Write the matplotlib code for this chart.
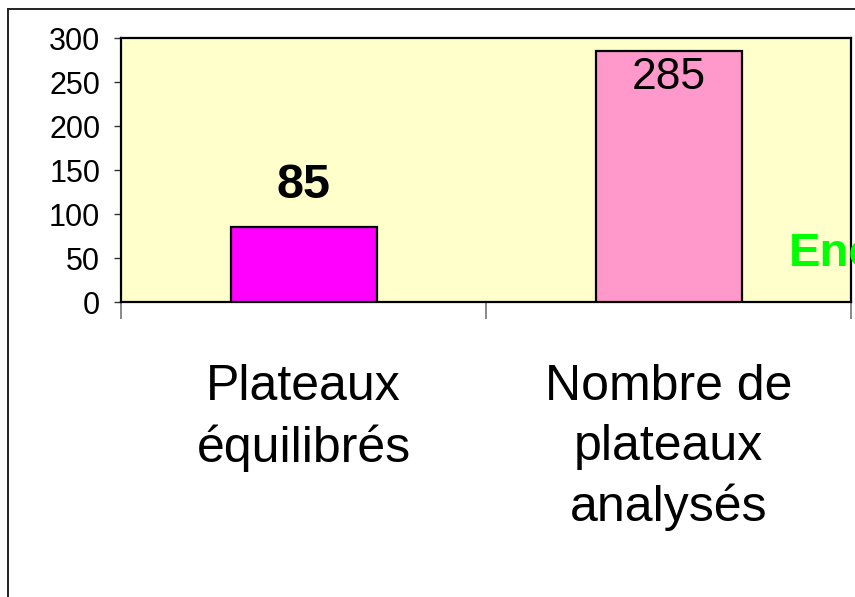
import matplotlib
matplotlib.use("Agg")
import matplotlib.pyplot as plt
import matplotlib.transforms as mtransforms
from matplotlib.lines import Line2D

plt.rcParams['font.family'] = ['Liberation Sans', 'DejaVu Sans']

# donnees
categories = ["Plateaux\néquilibrés", "Nombre de\nplateaux\nanalysés"]
valeurs = [85, 285]
couleurs = ["#FF00FF", "#FF99CC"]
yticks = [0, 50, 100, 150, 200, 250, 300]

W, H = 855, 597
fig = plt.figure(figsize=(W / 100, H / 100), dpi=100)
fig.patch.set_facecolor("white")

# cadre exterieur (coupe a droite et en bas)
fig.add_artist(Line2D([8 / W, 1.0], [1 - 9 / H, 1 - 9 / H], color="#222222", lw=1.4))
fig.add_artist(Line2D([8 / W, 8 / W], [0.0, 1 - 9 / H], color="#222222", lw=1.4))

ax = fig.add_axes([121 / W, 1 - 302 / H, (851 - 121) / W, (302 - 38) / H])
ax.set_facecolor("#FFFFCC")

x = list(range(len(valeurs)))
bars = ax.bar(x, valeurs, width=0.4, color=couleurs, edgecolor="black", linewidth=1.6, zorder=3)

ax.set_xlim(-0.5, 1.5)
ax.set_ylim(0, 300)
ax.set_yticks(yticks)
ax.tick_params(axis="y", direction="out", length=5, width=1, color="#333333",
               labelsize=22, pad=10)

# graduations x entre les categories
ax.set_xticks([])
ax.set_xticks([-0.5, 0.5, 1.5], minor=True)
ax.tick_params(axis="x", which="minor", direction="out", length=12, width=1.4,
               color="#888888", labelbottom=False)

for s in ax.spines.values():
    s.set_linewidth(1.6)
    s.set_color("black")

# etiquettes des categories
trans = mtransforms.blended_transform_factory(ax.transData, ax.transAxes)
for i, lab in enumerate(categories):
    ax.text(i, -0.235, lab, transform=trans, ha="center", va="top",
            fontsize=36, linespacing=1.38)

# etiquettes des valeurs
ax.annotate(str(valeurs[0]), (0, valeurs[0]), xytext=(0, 14), textcoords="offset points",
            ha="center", va="bottom", fontsize=35, fontweight="bold")
ax.annotate(str(valeurs[1]), (1, valeurs[1]), xytext=(0, -4), textcoords="offset points",
            ha="center", va="top", fontsize=32)

# texte vert coupe a droite
fig.text(789 / W, 1 - 266 / H, "Encadrés", color="#00FF00", fontsize=34,
         fontweight="bold", family=["Liberation Sans Narrow", "Liberation Sans"],
         ha="left", va="baseline")

fig.savefig("out.png", dpi=100)
